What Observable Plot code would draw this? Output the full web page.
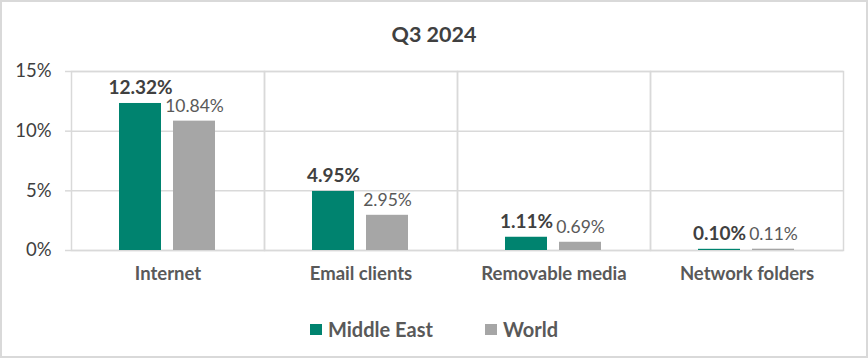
<!DOCTYPE html>
<html>
<head>
<meta charset="utf-8">
<script src="https://cdn.jsdelivr.net/npm/d3@7"></script>
<script src="https://cdn.jsdelivr.net/npm/@observablehq/plot@0.6"></script>
<style>
  html, body { margin: 0; padding: 0; background: #fff; }
  #chart { position: relative; width: 868px; height: 358px; background: #fff;
           box-shadow: inset 0 0 0 2px #d9d9d9; font-family: Lato, "Open Sans", sans-serif; overflow: hidden; }
  #title { position: absolute; left: 0; right: 0; top: 23px; height: 22px; line-height: 22px; text-align: center;
           font-size: 21.5px; font-weight: bold; color: #404040; }
  #plot { position: absolute; left: 0; top: 50px; width: 868px; height: 250px; }
  #plot svg { display: block; }
  #legend { position: absolute; left: 0; right: 0; top: 318px; height: 22px; line-height: 22px;
            display: flex; justify-content: center;
            font-size: 20px; font-weight: bold; color: #595959; gap: 52px; }
  #legend .item { display: flex; align-items: center; }
  #legend .sw { width: 12px; height: 11px; margin-right: 6px; display: inline-block; }
</style>
</head>
<body>
<div id="chart">
  <div id="title"></div>
  <div id="plot"></div>
  <div id="legend"></div>
</div>
<script>
const title = "Q3 2024";
const categories = ["Internet", "Email clients", "Removable media", "Network folders"];
const series = ["Middle East", "World"];
const middleEast = [12.32, 4.95, 1.11, 0.10];
const world = [10.84, 2.95, 0.69, 0.11];
const yTicks = [0, 5, 10, 15];
const colors = ["#00836F", "#A6A6A6"];

const data = categories.flatMap((c, i) => [
  {category: c, series: series[0], value: middleEast[i]},
  {category: c, series: series[1], value: world[i]}
]);

document.getElementById("title").textContent = title;

const chart = Plot.plot({
  width: 868,
  height: 250,
  marginTop: 21,
  marginBottom: 50,
  marginLeft: 70,
  marginRight: 24,
  style: {fontFamily: "Lato, 'Open Sans', sans-serif", background: "transparent", overflow: "visible"},
  fx: {domain: categories, padding: 0, label: null},
  x: {domain: series, paddingInner: 12 / 55, paddingOuter: 0.868, axis: null},
  y: {domain: [0, 15], label: null},
  color: {domain: series, range: colors},
  marks: [
    Plot.gridY(yTicks, {stroke: "#d9d9d9", strokeOpacity: 1, strokeWidth: 1.5}),
    Plot.frame({stroke: "#d9d9d9", strokeWidth: 1.5}),
    Plot.axisY(yTicks, {tickSize: 6, stroke: "#d9d9d9", strokeOpacity: 1, strokeWidth: 1.5, tickPadding: 14,
      tickFormat: d => d + "%", fontSize: 18.5, fill: "#404040", label: null}),
    Plot.axisFx({anchor: "bottom", tickSize: 0, tickPadding: 16, fontSize: 18.5, fontWeight: "bold",
      fill: "#595959", label: null}),
    Plot.barY(data, {fx: "category", x: "series", y: "value", fill: "series"}),
    Plot.text(data.filter(d => d.series === series[0]), {fx: "category", x: "series", y: "value",
      text: d => d.value.toFixed(2) + "%", lineAnchor: "bottom", dy: -9,
      fontSize: 19, fontWeight: "bold", fill: "#404040"}),
    Plot.text(data.filter(d => d.series === series[1]), {fx: "category", x: "series", y: "value",
      text: d => d.value.toFixed(2) + "%", lineAnchor: "bottom", dy: -9,
      fontSize: 17.5, fill: "#595959"})
  ]
});
document.getElementById("plot").appendChild(chart);

const legend = document.getElementById("legend");
series.forEach((s, i) => {
  const item = document.createElement("div");
  item.className = "item";
  const sw = document.createElement("span");
  sw.className = "sw";
  sw.style.background = colors[i];
  item.appendChild(sw);
  item.appendChild(document.createTextNode(s));
  legend.appendChild(item);
});
</script>
</body>
</html>
